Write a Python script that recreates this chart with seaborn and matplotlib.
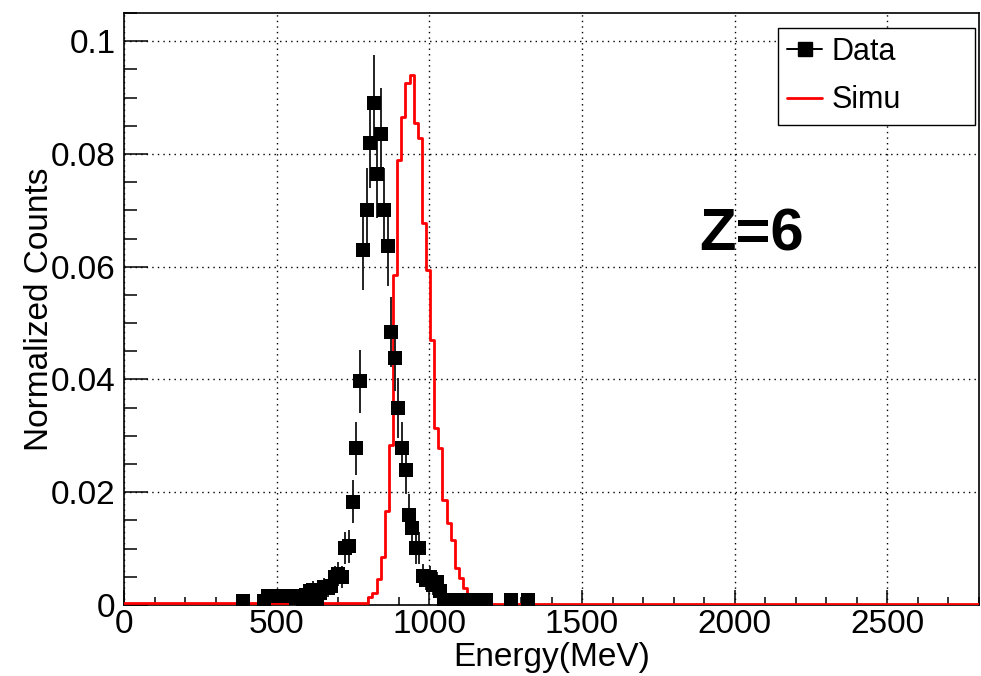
import matplotlib
matplotlib.use("Agg")
import matplotlib.pyplot as plt
from matplotlib.lines import Line2D
from matplotlib.ticker import MultipleLocator
import seaborn as sns
import pandas as pd

# ---------------- data ----------------
data_energy = [389, 459, 470, 482, 493, 505, 516, 528, 539, 551, 563, 574, 586,
               597, 609, 620, 632, 643, 655, 667, 678, 690, 701, 713, 724, 736,
               750, 761, 774, 783, 796, 807, 818, 829, 840, 853, 865, 876, 886,
               898, 911, 922, 933, 944, 955, 967, 978, 990, 1001, 1013, 1024,
               1036, 1047, 1059, 1071, 1082, 1094, 1105, 1117, 1128, 1140, 1151,
               1163, 1174, 1186, 1266, 1322]
data_counts = [0.0007, 0.0007, 0.0016, 0.0016, 0.0016, 0.0016, 0.0016, 0.0016,
               0.0016, 0.0016, 0.0012, 0.0016, 0.0008, 0.0018, 0.0025, 0.0027,
               0.0010, 0.0022, 0.0032, 0.0030, 0.0033, 0.0050, 0.0055, 0.0050,
               0.0101, 0.0104, 0.0183, 0.0278, 0.0397, 0.0629, 0.0700, 0.0820,
               0.0891, 0.0764, 0.0835, 0.0700, 0.0636, 0.0485, 0.0438, 0.0349,
               0.0278, 0.0240, 0.0160, 0.0136, 0.0101, 0.0101, 0.0052, 0.0045,
               0.0050, 0.0035, 0.0040, 0.0025, 0.0008, 0.0008, 0.0008, 0.0008,
               0.0008, 0.0008, 0.0008, 0.0008, 0.0008, 0.0008, 0.0008, 0.0008,
               0.0008, 0.0008, 0.0008]
data_err = [0.0008, 0.0008, 0.0011, 0.0011, 0.0011, 0.0011, 0.0011, 0.0011,
            0.0011, 0.0011, 0.0010, 0.0011, 0.0008, 0.0012, 0.0014, 0.0015,
            0.0009, 0.0013, 0.0016, 0.0015, 0.0016, 0.0020, 0.0021, 0.0020,
            0.0028, 0.0029, 0.0038, 0.0047, 0.0056, 0.0071, 0.0075, 0.0081,
            0.0084, 0.0078, 0.0082, 0.0075, 0.0071, 0.0062, 0.0059, 0.0053,
            0.0047, 0.0044, 0.0036, 0.0033, 0.0028, 0.0028, 0.0020, 0.0019,
            0.0020, 0.0017, 0.0018, 0.0014, 0.0008, 0.0008, 0.0008, 0.0008,
            0.0008, 0.0008, 0.0008, 0.0008, 0.0008, 0.0008, 0.0008, 0.0008,
            0.0008, 0.0008, 0.0008]

simu_edges = [0, 800, 813.5, 827, 840.5, 854, 867.5, 881, 894.5, 908, 921.5,
              935, 948.5, 962, 975.5, 989, 1002.5, 1016, 1029.5, 1043, 1056.5,
              1070, 1083.5, 1097, 1110.5, 1124, 2800]
simu_counts = [0.0003, 0.0015, 0.0021, 0.0047, 0.0086, 0.0166, 0.0284, 0.0586,
               0.0790, 0.0865, 0.0926, 0.0940, 0.0855, 0.0828, 0.0678, 0.0595,
               0.0470, 0.0314, 0.0278, 0.0186, 0.0146, 0.0115, 0.0066, 0.0048,
               0.0030, 0.0002]

x_ticks = [0, 500, 1000, 1500, 2000, 2500]
y_ticks = [0, 0.02, 0.04, 0.06, 0.08, 0.1]
y_tick_labels = ["0", "0.02", "0.04", "0.06", "0.08", "0.1"]

# ---------------- style ----------------
sns.set_theme(style="white")
plt.rcParams['font.family'] = ['Liberation Sans', 'DejaVu Sans']
plt.rcParams.update({"text.color": "black", "axes.labelcolor": "black",
                     "xtick.color": "black", "ytick.color": "black"})

fig = plt.figure(figsize=(9.81, 6.76), dpi=100)
ax = fig.add_axes([124 / 981, 71 / 676, (979 - 124) / 981, (605 - 13) / 676])

# simulation histogram
simu_centers = [(a + b) / 2 for a, b in zip(simu_edges[:-1], simu_edges[1:])]
simu_df = pd.DataFrame({"energy": simu_centers, "w": simu_counts})
sns.histplot(data=simu_df, x="energy", weights="w", bins=simu_edges,
             element="step", fill=False, color="#ff0000", linewidth=2.0,
             ax=ax, zorder=3)

# data points
data_df = pd.DataFrame({"energy": data_energy, "counts": data_counts,
                        "err": data_err})
ax.errorbar(data_df["energy"], data_df["counts"], yerr=data_df["err"],
            fmt="none", ecolor="#222222", elinewidth=1.4, zorder=4)
sns.scatterplot(data=data_df, x="energy", y="counts", marker="s", s=95,
                color="black", edgecolor="black", linewidth=0, ax=ax, zorder=5)

# axes
ax.set_xlim(0, 2800)
ax.set_ylim(0, 0.105)
ax.set_xticks(x_ticks)
ax.set_yticks(y_ticks)
ax.set_yticklabels(y_tick_labels)
ax.xaxis.set_minor_locator(MultipleLocator(100))
ax.yaxis.set_minor_locator(MultipleLocator(0.005))
ax.tick_params(axis="x", which="major", direction="in", length=11, width=1.1,
               labelsize=24, pad=3, colors="black")
ax.tick_params(axis="x", which="minor", direction="in", length=6, width=1.1,
               colors="black")
ax.tick_params(axis="y", which="major", direction="in", length=17, width=1.1,
               labelsize=24, pad=6, colors="black")
ax.tick_params(axis="y", which="minor", direction="in", length=9, width=1.1,
               colors="black")
ax.tick_params(which="both", bottom=True, left=True, top=False, right=False)
for sp in ax.spines.values():
    sp.set_color("black")
    sp.set_linewidth(1.2)
ax.grid(True, which="major", color="black", linestyle=(0, (1, 3)),
        linewidth=1.0)
ax.set_axisbelow(True)

ax.set_xlabel("Energy(MeV)", fontsize=24, labelpad=1, color="black")
ax.set_ylabel("Normalized Counts", fontsize=24, labelpad=-3, color="black")

ax.text(1885, 0.0657, "Z=6", fontsize=43, fontweight="bold", ha="left",
        va="center", color="black")

handles = [Line2D([0], [0], color="black", marker="s", markersize=10,
                  linewidth=1.4),
           Line2D([0], [0], color="#ff0000", linewidth=2.0)]
leg = ax.legend(handles, ["Data", "Simu"], loc="upper left",
                bbox_to_anchor=(778 / 981, 1 - 124 / 676, 197 / 981, 96 / 676),
                bbox_transform=fig.transFigure, mode="expand", fontsize=22,
                frameon=True, fancybox=False, shadow=False, borderaxespad=0,
                handlelength=1.15, handletextpad=0.3, labelspacing=0.6,
                borderpad=0.3, framealpha=1)
leg.get_frame().set_edgecolor("black")
leg.get_frame().set_linewidth(1.0)

fig.savefig("out.png", dpi=100)
